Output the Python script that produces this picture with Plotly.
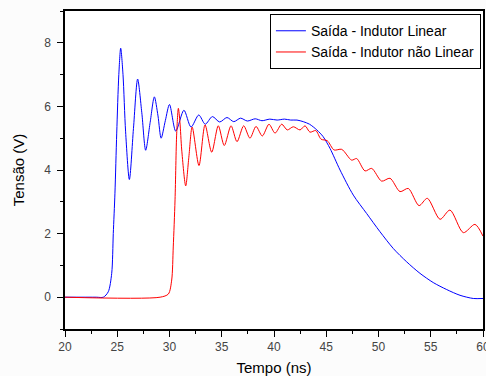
import plotly.graph_objects as go

# Blue: Saída - Indutor Linear
t_lin = [20, 23.0, 23.67, 24.14, 24.47, 24.62, 24.78, 24.95, 25.15, 25.33, 25.55, 25.8, 26.16,
         26.55, 26.95, 27.35, 27.72, 28.15, 28.55, 28.9, 29.2, 29.6, 30.0, 30.6, 31.38, 32.06,
         32.8, 33.42, 34.1, 34.8, 35.5, 36.15, 36.8, 37.45, 38.2, 38.85, 39.6, 40.3, 41.0, 41.6,
         42.2, 42.8, 43.4, 44.1, 44.7, 45.36, 46.32, 47.59, 48.87, 50.14, 51.42, 52.7, 53.97,
         55.24, 56.53, 57.8, 59.07, 60]
v_lin = [0, 0, 0, 0.17, 0.75, 2.0, 3.27, 5.16, 7.0, 7.83, 7.0, 5.2, 3.7,
         5.3, 6.86, 5.8, 4.62, 5.5, 6.3, 5.7, 5.0, 5.55, 6.06, 5.22, 5.88, 5.35,
         5.73, 5.44, 5.68, 5.51, 5.65, 5.52, 5.63, 5.54, 5.61, 5.55, 5.6, 5.57, 5.6, 5.57,
         5.57, 5.52, 5.44, 5.26, 5.05, 4.68, 4.0, 3.21, 2.63, 2.06, 1.53, 1.11, 0.75,
         0.46, 0.24, 0.06, -0.04, -0.04]

# Red: Saída - Indutor não Linear
t_nl = [20, 29.1, 29.89, 30.21, 30.36, 30.53, 30.69, 30.85, 31.0, 31.17, 31.55, 31.85, 32.17,
        32.82, 33.4, 34.04, 34.67, 35.24, 35.89, 36.46, 37.1, 37.7, 38.28, 38.88, 39.52, 40.1,
        40.74, 41.27, 41.85, 42.49, 42.97, 43.44, 44.0, 44.5, 45.1, 45.75, 46.48, 47.43, 47.91,
        48.71, 49.35, 50.3, 51.1, 52.06, 52.85, 53.88, 54.67, 55.89, 56.84, 58.12, 59.23, 60]
v_nl = [0, 0, 0.1, 0.54, 1.58, 3.06, 5.16, 5.94, 5.5, 4.63, 3.5, 4.4, 5.35,
        4.14, 5.42, 4.56, 5.39, 4.77, 5.39, 4.89, 5.39, 5.0, 5.37, 5.07, 5.44, 5.16,
        5.44, 5.26, 5.36, 5.26, 5.39, 5.19, 5.24, 4.97, 4.92, 4.63, 4.65, 4.31, 4.36,
        3.97, 4.05, 3.65, 3.74, 3.32, 3.42, 2.88, 3.11, 2.45, 2.74, 2.03, 2.29, 1.92]

x_ticks = [20, 25, 30, 35, 40, 45, 50, 55, 60]
y_ticks = [0, 2, 4, 6, 8]

fig = go.Figure()
fig.add_trace(go.Scatter(x=t_lin, y=v_lin, mode="lines", name="Saída - Indutor Linear",
                         line=dict(color="#0000ff", width=1, shape="spline", smoothing=0.8)))
fig.add_trace(go.Scatter(x=t_nl, y=v_nl, mode="lines", name="Saída - Indutor não Linear",
                         line=dict(color="#ff0000", width=1, shape="spline", smoothing=0.8)))

axis_common = dict(showline=True, linecolor="black", linewidth=1.5, mirror=True,
                   ticks="outside", tickcolor="black", ticklen=6, tickwidth=1,
                   showgrid=False, zeroline=False, ticklabeloverflow="allow",
                   automargin=False,
                   tickfont=dict(family="Liberation Sans, Arial", size=12, color="#444"))

fig.update_layout(
    width=486, height=376,
    margin=dict(l=65, r=3, t=11, b=47),
    paper_bgcolor="#fcfcfc", plot_bgcolor="white",
    font=dict(family="Liberation Sans, Arial", color="black"),
    xaxis=dict(range=[20, 60], tickvals=x_ticks,
               minor=dict(dtick=2.5, ticks="outside", ticklen=3, tickcolor="black"),
               title=dict(text="Tempo (ns)", font=dict(size=15), standoff=10),
               **axis_common),
    yaxis=dict(range=[-1, 9], tickvals=y_ticks,
               minor=dict(dtick=1, ticks="outside", ticklen=3, tickcolor="black"),
               title=dict(text="Tensão (V)", font=dict(size=15), standoff=16),
               ticklabelstandoff=4,
               **axis_common),
    legend=dict(x=0.995, y=0.99, xanchor="right", yanchor="top",
                bgcolor="white", bordercolor="black", borderwidth=1,
                font=dict(size=14, color="black"), tracegroupgap=0),
    showlegend=True,
)

fig.write_html("out.html", config={"displayModeBar": False},
               post_script="document.body.style.margin='0';document.body.style.overflow='hidden';")
